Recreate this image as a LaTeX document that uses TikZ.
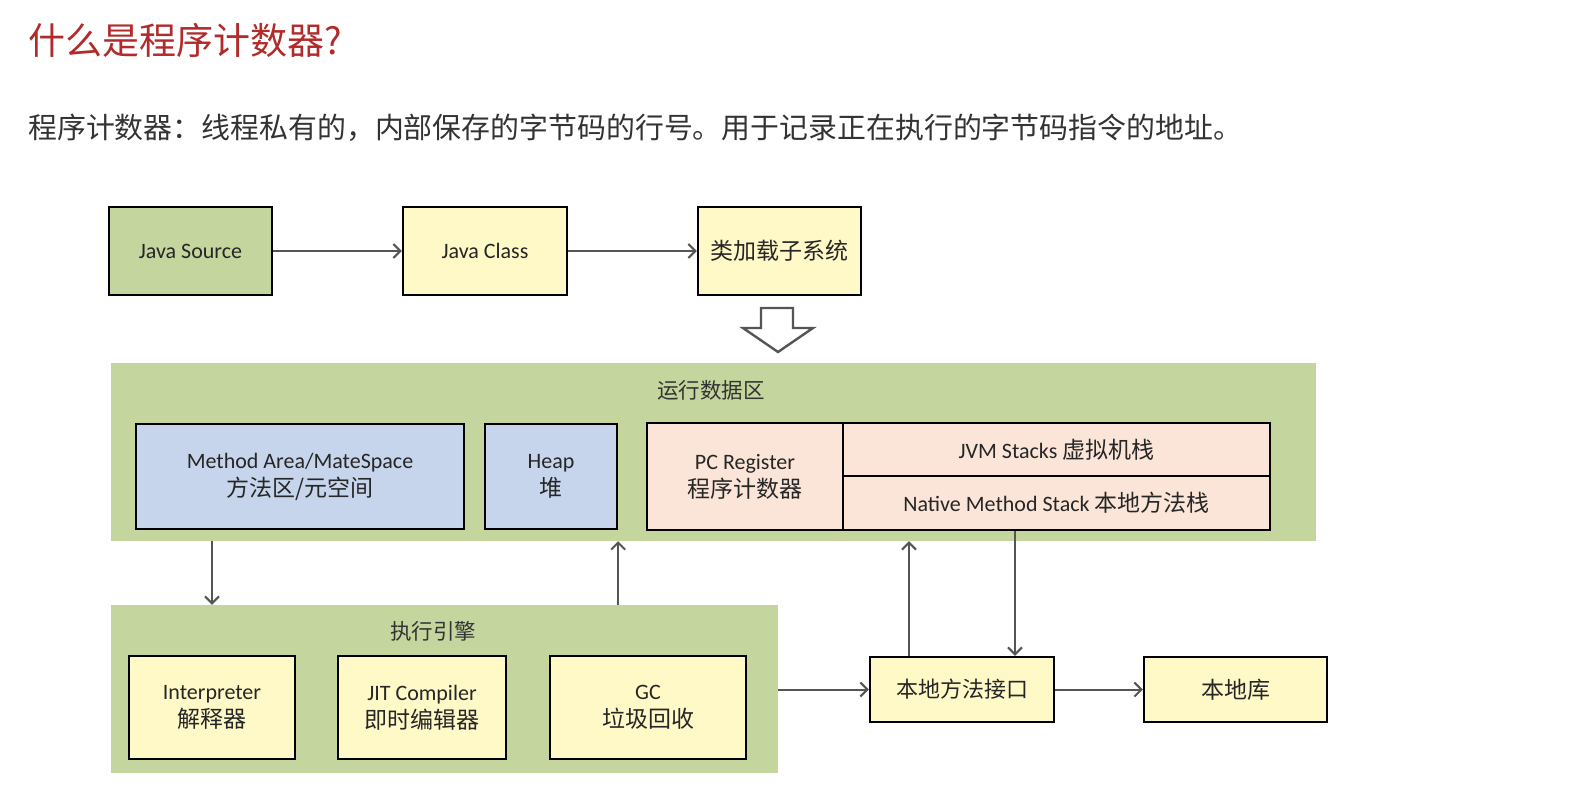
\documentclass[tikz,border=0pt]{standalone}
\usepackage{fontspec}
\setmainfont{Carlito}
\newfontfamily\cjk{Noto Sans CJK SC}
\usetikzlibrary{arrows.meta}
\definecolor{bgreen}{HTML}{C4D69E}
\definecolor{byellow}{HTML}{FFF9C8}
\definecolor{bblue}{HTML}{C6D5EC}
\definecolor{bpink}{HTML}{FBE5D8}
\definecolor{arrgray}{HTML}{555555}
\definecolor{titlered}{HTML}{B22B2B}
\definecolor{txtgray}{HTML}{333333}
\tikzset{
  x=1pt,y=-1pt,
  boxbase/.style={draw=black,line width=2.4pt,inner sep=2pt,align=center,text=black!85,
    font=\fontsize{22}{28}\selectfont},
  ybox/.style={boxbase,fill=byellow},
  gbox/.style={boxbase,fill=bgreen},
  bbox/.style={boxbase,fill=bblue},
  pbox/.style={boxbase,fill=bpink},
  cjkbox/.style={font=\cjk\fontsize{23}{28}\selectfont},
  area/.style={fill=bgreen,draw=none,inner sep=0pt},
  arealabel/.style={font=\cjk\fontsize{21.5}{21.5}\selectfont,text=black!80},
  arr/.style={draw=arrgray,line width=2pt,-{Straight Barb[length=7pt,width=14pt,line width=2pt]}},
}
\newcommand{\zh}[1]{{\cjk\fontsize{23}{28}\selectfont #1}}
\begin{document}
\begin{tikzpicture}
\useasboundingbox (0,0) rectangle (1581,785);
\fill[white] (0,0) rectangle (1581,785);

% title and subtitle
\node[anchor=west,inner sep=0pt,text=titlered,font=\cjk\fontsize{37}{37}\selectfont] (title) at (28,40) {什么是程序计数器?};
\node[anchor=west,inner sep=0pt,text=txtgray,font=\cjk\fontsize{28.9}{28.9}\selectfont] (sub) at (28,128) {程序计数器：线程私有的，内部保存的字节码的行号。用于记录正在执行的字节码指令的地址。};

% top row
\node[gbox,minimum width=163,minimum height=88] (jsrc) at (190.5,251) {Java Source};
\node[ybox,minimum width=164,minimum height=88] (jcls) at (485,251) {Java Class};
\node[ybox,cjkbox,minimum width=163,minimum height=88] (loader) at (779.5,251) {类加载子系统};
\draw[arr] (jsrc.east) -- (jcls.west);
\draw[arr] (jcls.east) -- (loader.west);

% hollow arrow
\draw[draw=arrgray,fill=white,line width=2.4pt,line join=miter]
  (761,308) -- (793,308) -- (793,328) -- (813,328) -- (778,352) -- (743,328) -- (761,328) -- cycle;

% runtime data area
\node[area,minimum width=1205,minimum height=178] (runtime) at (713.5,452) {};
\node[arealabel] (rtlabel) at (711,390) {运行数据区};
\node[bbox,minimum width=328,minimum height=105] (method) at (300,476.5) {Method Area/MateSpace\\\zh{方法区/元空间}};
\node[bbox,minimum width=132,minimum height=105] (heap) at (551,476.5) {Heap\\\zh{堆}};
\node[pbox,minimum width=196,minimum height=107] (pc) at (745,476.5) {PC Register\\\zh{程序计数器}};
\node[pbox,minimum width=427,minimum height=53] (jvm) at (1056.5,449.5) {JVM Stacks \zh{虚拟机栈}};
\node[pbox,minimum width=427,minimum height=54] (native) at (1056.5,503) {Native Method Stack \zh{本地方法栈}};

% execution engine
\node[area,minimum width=667,minimum height=168] (engine) at (444.5,689) {};
\node[arealabel] (enlabel) at (433,631) {执行引擎};
\node[ybox,minimum width=166,minimum height=103] (interp) at (212,707.5) {Interpreter\\\zh{解释器}};
\node[ybox,minimum width=168,minimum height=103] (jit) at (422,707.5) {JIT Compiler\\\zh{即时编辑器}};
\node[ybox,minimum width=196,minimum height=103] (gc) at (648,707.5) {GC\\\zh{垃圾回收}};

% native interface and library
\node[ybox,font=\cjk\fontsize{22}{28}\selectfont,minimum width=184,minimum height=65] (nmi) at (962,689.5) {本地方法接口};
\node[ybox,cjkbox,minimum width=183,minimum height=65] (nlib) at (1235.5,689.5) {本地库};

% connectors
\draw[arr] (interp |- runtime.south) -- (interp |- engine.north);
\draw[arr] (heap.south east |- engine.north) -- (heap.south east |- runtime.south);
\draw[arr] (engine.east |- nmi.west) -- (nmi.west);
\draw[arr] (nmi.east) -- (nlib.west);
\coordinate (nmiL) at ([xshift=-53pt]nmi.north);
\coordinate (nmiR) at ([xshift=53pt]nmi.north);
\draw[arr] (nmiL) -- (nmiL |- runtime.south);
\draw[arr] (nmiR |- native.south) -- (nmiR);
\end{tikzpicture}
\end{document}
